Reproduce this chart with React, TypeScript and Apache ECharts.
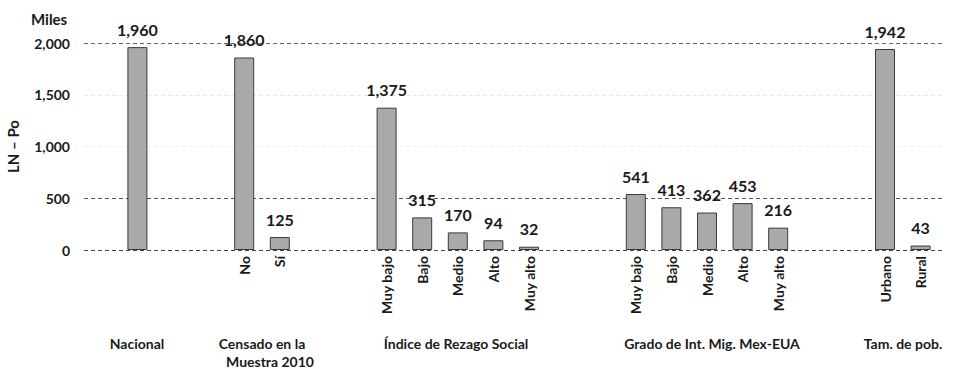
import React, { useEffect, useRef } from "react";
import * as echarts from "echarts";

// ---- Data ----
const nacionalVals = [1960];
const censadoCats = ["No", "Sí"];
const censadoVals = [1860, 125];
const rezagoCats = ["Muy bajo", "Bajo", "Medio", "Alto", "Muy alto"];
const rezagoVals = [1375, 315, 170, 94, 32];
const migCats = ["Muy bajo", "Bajo", "Medio", "Alto", "Muy alto"];
const migVals = [541, 413, 362, 453, 216];
const tamCats = ["Urbano", "Rural"];
const tamVals = [1942, 43];
const yTicks = [0, 500, 1000, 1500, 2000];

const FONT = "Lato, 'Open Sans', sans-serif";

// build category slots (with empty gap slots between groups)
const cats: string[] = [];
const vals: (number | null)[] = [];
let gapN = 0;
const addGap = (n: number) => {
  for (let i = 0; i < n; i++) {
    cats.push("gap" + gapN++);
    vals.push(null);
  }
};
const addGroup = (prefix: string, c: string[], v: number[]) => {
  c.forEach((name, i) => {
    cats.push(prefix + "|" + name);
    vals.push(v[i]);
  });
};
addGroup("NAC", [""], nacionalVals);
addGap(2);
addGroup("CEN", censadoCats, censadoVals);
addGap(2);
addGroup("IRS", rezagoCats, rezagoVals);
addGap(2);
addGroup("GIM", migCats, migVals);
addGap(2);
addGroup("TAM", tamCats, tamVals);

const fmt = (v: number) => v.toLocaleString("en-US");

export default function App() {
  const ref = useRef<HTMLDivElement>(null);
  useEffect(() => {
    if (!ref.current) return;
    const chart = echarts.init(ref.current, null, { renderer: "svg" });
    const tb = { fontFamily: FONT, fontWeight: "bold" as const, fill: "#1a1a1a" };
    const grp = (text: string, x: number, y: number) => ({
      type: "text",
      x,
      y,
      style: { ...tb, text, fontSize: 14, textAlign: "center", textVerticalAlign: "middle" },
    });
    chart.setOption({
      animation: false,
      backgroundColor: "#ffffff",
      textStyle: { fontFamily: FONT },
      grid: [
        { left: 84, right: 9, top: 43, bottom: 119, containLabel: false, outerBoundsMode: "none" },
        { left: 119.6, width: 818.8, top: 43, bottom: 119, containLabel: false, outerBoundsMode: "none" },
      ],
      xAxis: [
        { type: "value", gridIndex: 0, show: false, min: 0, max: 1 },
        {
          type: "category",
          gridIndex: 1,
          data: cats,
          axisLine: { show: false },
          axisTick: { show: false },
          axisLabel: {
            interval: 0,
            rotate: 90,
            margin: 6,
            fontSize: 14,
            fontWeight: "bold",
            fontFamily: FONT,
            color: "#1a1a1a",
            formatter: (v: string) => (v.startsWith("gap") ? "" : v.split("|")[1]),
          },
        },
      ],
      yAxis: [
        {
          type: "value",
          gridIndex: 0,
          min: yTicks[0],
          max: yTicks[yTicks.length - 1],
          interval: 500,
          name: "LN – Po",
          nameLocation: "middle",
          nameRotate: 90,
          nameGap: 64,
          nameTextStyle: { fontSize: 15, fontWeight: "bold", fontFamily: FONT, color: "#1a1a1a" },
          axisLine: { show: false },
          axisTick: { show: false },
          axisLabel: {
            margin: 14,
            fontSize: 14,
            fontWeight: "bold",
            fontFamily: FONT,
            color: "#1a1a1a",
            formatter: (v: number) => fmt(v),
          },
          splitLine: {
            show: true,
            lineStyle: {
              type: [4, 3],
              width: 1,
              color: ["#444444", "#555555", "#efefef", "#e8e8e8", "#666666"],
            },
          },
        },
        { type: "value", gridIndex: 1, min: 0, max: 2000, show: false, splitLine: { show: false } },
      ],
      series: [
        {
          type: "bar",
          xAxisIndex: 1,
          yAxisIndex: 1,
          data: vals,
          barWidth: 20,
          itemStyle: { color: "#a9a9a9", borderColor: "#3a3a3a", borderWidth: 1 },
          label: {
            show: true,
            position: "top",
            distance: 10,
            fontSize: 16,
            fontWeight: "bold",
            fontFamily: FONT,
            color: "#1a1a1a",
            formatter: (p: any) => (p.value == null ? "" : fmt(p.value)),
          },
        },
      ],
      graphic: [
        { type: "text", left: 31, top: 11, style: { ...tb, text: "Miles", fontSize: 15 } },
        grp("Nacional", 137, 343),
        grp("Censado en la", 262, 343),
        grp("Muestra 2010", 270, 361),
        grp("Índice de Rezago Social", 456, 343),
        grp("Grado de Int. Mig. Mex-EUA", 712, 343),
        grp("Tam. de pob.", 903, 343),
      ],
    });
    return () => chart.dispose();
  }, []);
  return <div ref={ref} style={{ width: 954, height: 369, position: "absolute", left: 0, top: 0 }} />;
}
